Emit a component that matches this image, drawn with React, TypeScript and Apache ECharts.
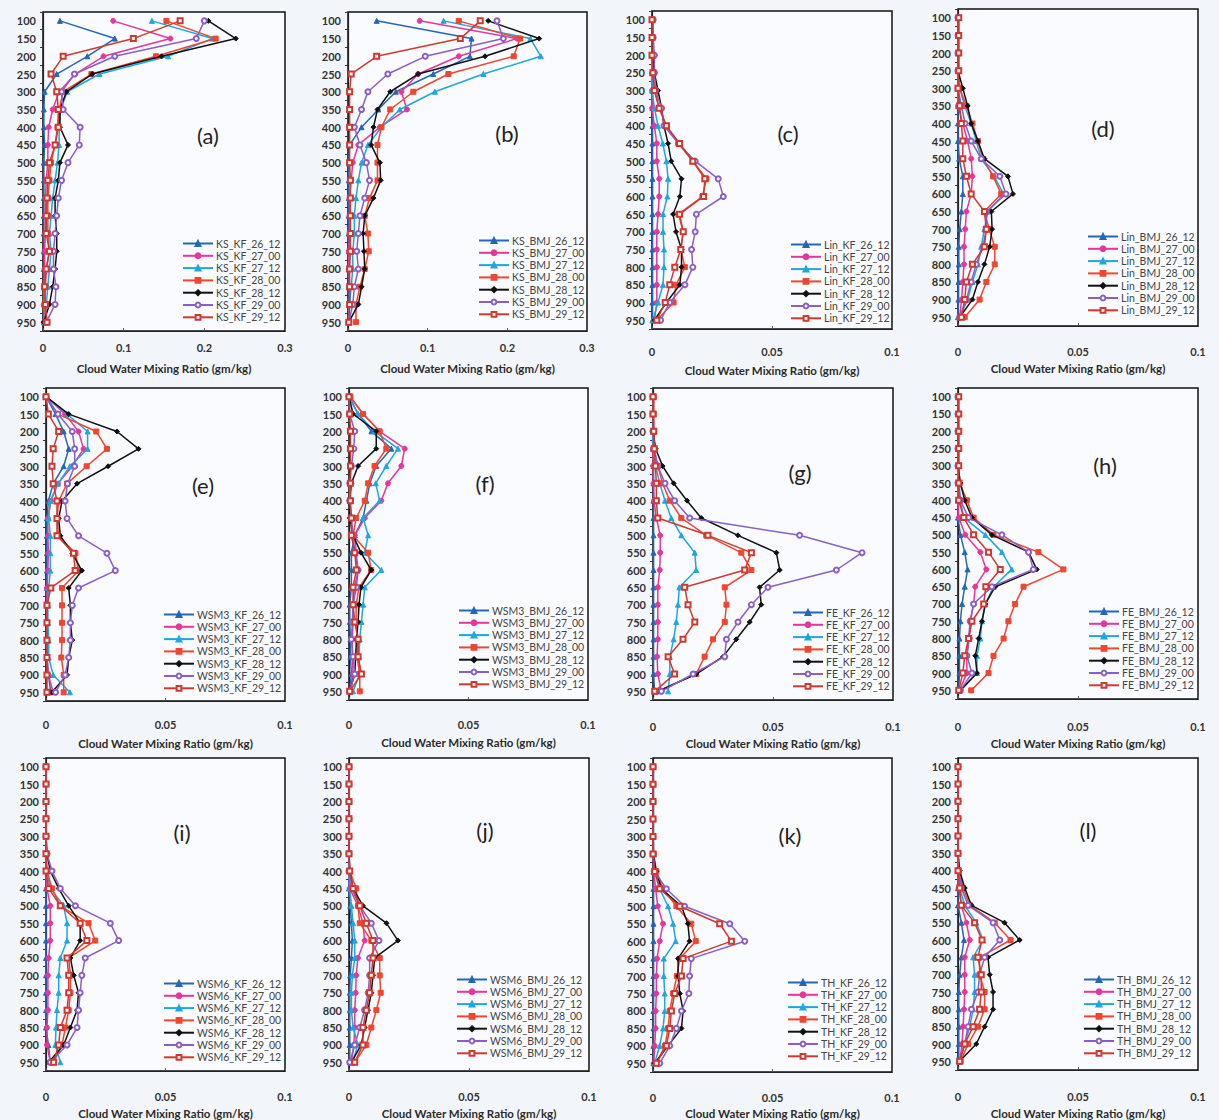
import React, { useEffect, useRef } from "react";
import * as echarts from "echarts";

// Pressure levels (hPa), top to bottom
const levels = ["100","150","200","250","300","350","400","450","500","550","600","650","700","750","800","850","900","950"];
// series suffixes (run start times)
const runs = ["26_12", "27_00", "27_12", "28_00", "28_12", "29_00", "29_12"];

// Each panel: 7 series (runs order) x 18 levels, cloud water mixing ratio (gm/kg)
const KS_KF = [
  [0.021,0.089,0.055,0.017,0.002,0.001,0.001,0.002,0.001,0.001,0.001,0.001,0.001,0.001,0.001,0.001,0.001,0.001],
  [0.087,0.158,0.075,0.040,0.020,0.012,0.007,0.006,0.006,0.004,0.003,0.003,0.003,0.002,0.002,0.001,0.001,0.001],
  [0.135,0.210,0.155,0.070,0.030,0.022,0.020,0.020,0.018,0.015,0.012,0.010,0.008,0.010,0.008,0.006,0.004,0.002],
  [0.153,0.214,0.140,0.060,0.025,0.020,0.018,0.015,0.010,0.008,0.006,0.006,0.006,0.008,0.004,0.003,0.002,0.004],
  [0.205,0.239,0.147,0.061,0.029,0.021,0.021,0.031,0.021,0.019,0.015,0.015,0.017,0.017,0.015,0.012,0.008,0.001],
  [0.200,0.190,0.089,0.039,0.023,0.025,0.046,0.045,0.031,0.023,0.019,0.017,0.015,0.013,0.013,0.016,0.015,0.004],
  [0.170,0.112,0.025,0.010,0.017,0.019,0.019,0.015,0.008,0.006,0.005,0.004,0.004,0.008,0.004,0.002,0.003,0.005],
];
const KS_BMJ = [
  [0.036,0.155,0.153,0.107,0.060,0.038,0.017,0.002,0.001,0.001,0.001,0.001,0.001,0.001,0.001,0.001,0.001,0.001],
  [0.090,0.212,0.139,0.088,0.067,0.074,0.040,0.013,0.006,0.004,0.002,0.002,0.002,0.001,0.001,0.002,0.002,0.001],
  [0.120,0.229,0.242,0.170,0.109,0.065,0.042,0.025,0.017,0.013,0.010,0.008,0.008,0.006,0.006,0.004,0.002,0.001],
  [0.139,0.216,0.208,0.126,0.082,0.053,0.042,0.037,0.037,0.037,0.027,0.021,0.025,0.026,0.021,0.015,0.010,0.010],
  [0.176,0.240,0.172,0.088,0.053,0.037,0.032,0.029,0.040,0.041,0.032,0.021,0.019,0.020,0.021,0.017,0.013,0.001],
  [0.187,0.195,0.097,0.050,0.025,0.017,0.008,0.015,0.023,0.027,0.021,0.015,0.013,0.011,0.013,0.008,0.006,0.001],
  [0.166,0.141,0.036,0.004,0.002,0.002,0.002,0.002,0.002,0.003,0.003,0.003,0.003,0.003,0.002,0.002,0.002,0.001],
];
const LIN_KF = [
  [0.0002,0.0002,0.0002,0.0002,0.0002,0.0002,0.0002,0.0002,0.0002,0.0002,0.0002,0.0002,0.0002,0.0002,0.0002,0.0002,0.0002,0.0002],
  [0,0,0,0,0,0,0.001,0.002,0.002,0.003,0.003,0.0025,0.002,0.002,0.002,0.002,0.002,0.001],
  [0,0,0,0,0,0.001,0.0025,0.0045,0.006,0.0067,0.0064,0.0046,0.0046,0.005,0.005,0.0046,0.0025,0.0004],
  [0,0,0.0002,0.0004,0.001,0.003,0.006,0.011,0.017,0.0227,0.021,0.011,0.013,0.012,0.0137,0.010,0.009,0.002],
  [0,0,0.0002,0.001,0.0025,0.004,0.005,0.0067,0.008,0.0123,0.0116,0.0088,0.010,0.0123,0.0123,0.0116,0.006,0.001],
  [0.0005,0.0005,0.001,0.001,0.0015,0.004,0.005,0.011,0.018,0.0276,0.0297,0.0185,0.018,0.0165,0.017,0.0137,0.0074,0.0036],
  [0,0,0,0.0004,0.001,0.003,0.006,0.0115,0.017,0.022,0.0215,0.0115,0.013,0.012,0.0095,0.0074,0.0055,0.002],
];
const LIN_BMJ = [
  [0,0,0,0,0,0,0,0,0.0005,0.002,0.002,0.0014,0.0007,0.0003,0.0003,0.0002,0.0002,0],
  [0,0,0,0,0,0,0.002,0.004,0.0055,0.006,0.0055,0.0035,0.003,0.0025,0.0025,0.002,0.0015,0.0007],
  [0,0,0,0,0.0007,0.0028,0.0055,0.0076,0.0097,0.015,0.019,0.0125,0.011,0.0097,0.0083,0.006,0.004,0.0007],
  [0.0003,0.0003,0.0003,0.0003,0.0007,0.0035,0.006,0.0083,0.0104,0.0146,0.018,0.011,0.013,0.0153,0.0153,0.0118,0.009,0.0028],
  [0,0,0,0,0.002,0.004,0.0055,0.0083,0.011,0.0208,0.0229,0.0139,0.0142,0.0132,0.011,0.0083,0.006,0.0007],
  [0,0,0,0,0,0.0014,0.003,0.0055,0.0097,0.0174,0.020,0.0118,0.0118,0.0104,0.0076,0.0055,0.0035,0.0007],
  [0.0003,0.0003,0.0003,0.0003,0,0.0007,0.0014,0.002,0.002,0.0035,0.0055,0.011,0.0118,0.011,0.006,0.0035,0.0028,0.0014],
];
const WSM3_KF = [
  [0,0.004,0.0074,0.0095,0.0074,0.003,0.001,0.0004,0.0004,0.0004,0.0004,0.0004,0.0004,0.0004,0.0004,0.0004,0.001,0.002],
  [0,0.008,0.0136,0.0157,0.011,0.005,0.002,0.0008,0.0008,0.001,0.0008,0.0004,0.0004,0.0004,0.0004,0.0004,0.001,0.003],
  [0,0.0088,0.0174,0.0174,0.010,0.005,0.0018,0.0011,0.0018,0.0018,0.0018,0.0011,0.0008,0.0008,0.0011,0.0011,0.003,0.010],
  [0,0.005,0.021,0.0255,0.017,0.0088,0.0053,0.0046,0.0053,0.0123,0.0136,0.0067,0.0067,0.0067,0.0067,0.0064,0.0074,0.0074],
  [0,0.0095,0.0297,0.0387,0.026,0.013,0.0067,0.0053,0.006,0.011,0.015,0.0095,0.0102,0.0102,0.011,0.0095,0.0088,0.0025],
  [0,0.005,0.011,0.012,0.012,0.009,0.008,0.0088,0.0136,0.0255,0.029,0.0136,0.011,0.0102,0.0102,0.0095,0.008,0.004],
  [0,0.001,0.0053,0.003,0.0025,0.003,0.0046,0.0046,0.0046,0.0115,0.0122,0.002,0.0004,0.0004,0.0004,0.0004,0.0004,0.0004],
];
const WSM3_BMJ = [
  [0,0.0038,0.0094,0.0177,0.0114,0.0087,0.0073,0.0059,0.0024,0.001,0.001,0.001,0.0003,0.0003,0.0006,0.0006,0.001,0.0003],
  [0.0003,0.0059,0.0128,0.0233,0.0219,0.0163,0.0135,0.0066,0.0024,0.003,0.0038,0.0024,0.0017,0.0017,0.0014,0.0014,0.0017,0.0003],
  [0,0.0038,0.0107,0.0205,0.0156,0.0112,0.0128,0.0059,0.008,0.0066,0.0135,0.0066,0.0059,0.0052,0.0045,0.0042,0.0045,0.0017],
  [0.0006,0.0059,0.0128,0.0156,0.0107,0.008,0.0066,0.003,0.0017,0.008,0.0093,0.0042,0.003,0.003,0.0038,0.0033,0.0045,0.0045],
  [0,0.0017,0.0114,0.0114,0.0038,0.001,0.0003,0.0003,0.0017,0.005,0.0093,0.005,0.0042,0.0038,0.0031,0.0028,0.0024,0.0003],
  [0,0.0003,0.0024,0.002,0.001,0.0003,0.0003,0.001,0.0017,0.0024,0.0038,0.0031,0.0017,0.0014,0.001,0.0017,0.0024,0.0003],
  [0,0.0003,0.0006,0.0006,0.0006,0.0006,0.0006,0.001,0.001,0.0024,0.0031,0.0017,0.0017,0.0024,0.0038,0.0038,0.0052,0.0003],
];
const FE_KF = [
  [0.0002,0.0002,0.0002,0.0002,0.0002,0.0002,0.0002,0.0002,0.0002,0.0002,0.0002,0.0002,0.0002,0.0002,0.0002,0.0002,0.0002,0.0007],
  [0,0,0,0,0,0.0002,0.0004,0.0014,0.003,0.003,0.0028,0.002,0.002,0.002,0.002,0.0017,0.002,0.0035],
  [0,0,0,0,0.0011,0.0028,0.005,0.0076,0.0118,0.0174,0.018,0.011,0.0104,0.0097,0.0086,0.007,0.007,0.0063],
  [0.0003,0.0003,0.0003,0.0003,0.002,0.004,0.007,0.0118,0.0222,0.0368,0.041,0.0299,0.0306,0.0299,0.025,0.0215,0.018,0.002],
  [0,0,0,0.0011,0.004,0.0086,0.0142,0.0201,0.0354,0.0514,0.0528,0.0444,0.0451,0.0403,0.0347,0.0292,0.018,0.002],
  [0,0,0,0.0005,0.002,0.005,0.009,0.0153,0.0611,0.0871,0.0764,0.0479,0.041,0.0354,0.0306,0.0299,0.0167,0.0035],
  [0,0,0.0003,0.0005,0.001,0.0014,0.0014,0.002,0.0229,0.041,0.0382,0.0132,0.0146,0.0174,0.0125,0.0063,0.009,0.0007],
];
const FE_BMJ = [
  [0,0,0,0,0,0,0,0,0.001,0.0028,0.004,0.0028,0.0017,0.001,0.0006,0.0006,0.0006,0.0003],
  [0,0,0,0,0,0,0,0.0003,0.003,0.0093,0.0118,0.0072,0.0065,0.0051,0.0044,0.0037,0.0037,0.0006],
  [0,0,0,0,0,0.0005,0.001,0.0024,0.0114,0.0183,0.0224,0.0148,0.0114,0.01,0.0093,0.0079,0.0079,0.001],
  [0.0003,0.0003,0.0003,0.0003,0.0003,0.0007,0.0037,0.0065,0.0148,0.0335,0.0439,0.0273,0.0238,0.021,0.019,0.0148,0.0127,0.0055],
  [0,0,0,0,0,0.001,0.0028,0.0058,0.0141,0.0294,0.0328,0.0155,0.0114,0.01,0.0086,0.0072,0.0079,0.001],
  [0,0,0,0,0,0,0.001,0.0044,0.0183,0.0294,0.0314,0.0141,0.0065,0.0051,0.0047,0.0037,0.0058,0.001],
  [0.0003,0.0003,0.0003,0.0003,0.0003,0.0003,0.0003,0.0024,0.0065,0.0127,0.0176,0.0116,0.0107,0.0058,0.0044,0.0028,0.002,0.0003],
];
const WSM6_KF = [
  [0,0,0,0,0,0,0,0,0,0,0,0,0,0,0,0,0.001,0.0018],
  [0,0,0,0,0,0,0,0.0004,0.0018,0.0018,0.0018,0.0011,0.0008,0.0008,0.0008,0.0004,0.0004,0.0018],
  [0,0,0,0,0,0,0.0004,0.0018,0.0074,0.0088,0.0088,0.006,0.0053,0.0053,0.0046,0.0042,0.0039,0.006],
  [0,0,0,0,0,0,0.0004,0.0025,0.006,0.0178,0.0206,0.0095,0.0102,0.0102,0.0095,0.0081,0.0067,0.0032],
  [0,0,0,0,0,0.0004,0.0018,0.0053,0.0095,0.0143,0.0143,0.0102,0.0116,0.0136,0.013,0.0102,0.0074,0.0011],
  [0,0,0,0,0,0.0004,0.0025,0.006,0.0123,0.0269,0.0304,0.0164,0.015,0.0143,0.0136,0.013,0.0088,0.0018],
  [0,0,0,0,0,0,0,0.0011,0.006,0.0143,0.0171,0.0088,0.0095,0.0095,0.0088,0.006,0.0053,0.0032],
];
const WSM6_BMJ = [
  [0,0,0,0,0,0,0,0,0.0005,0.001,0.0014,0.001,0.0005,0.0003,0.0003,0.0003,0.0003,0.0003],
  [0,0,0,0,0,0,0,0.0003,0.0037,0.0058,0.0065,0.0037,0.003,0.0028,0.0024,0.0024,0.002,0.001],
  [0,0,0,0,0,0,0,0.0003,0.001,0.0017,0.0024,0.0024,0.0014,0.001,0.001,0.0017,0.0037,0.0014],
  [0,0,0,0,0,0,0.0003,0.003,0.0037,0.0045,0.0093,0.0128,0.0128,0.0132,0.0114,0.0093,0.0072,0.0024],
  [0,0,0,0,0,0,0.0003,0.0017,0.0058,0.0156,0.0204,0.0107,0.01,0.0093,0.0079,0.0065,0.0051,0.001],
  [0,0,0,0,0,0,0,0.001,0.0045,0.0093,0.0125,0.0086,0.0086,0.008,0.0065,0.0045,0.0024,0.0003],
  [0,0,0,0,0,0,0.0003,0.0017,0.0045,0.0072,0.01,0.01,0.0093,0.0086,0.0072,0.0058,0.0058,0.0024],
];
const TH_KF = [
  [0.0002,0.0002,0.0002,0.0002,0.0002,0.0002,0.0002,0.0002,0.0002,0.0002,0.0002,0.0002,0.0002,0.0002,0.0002,0.0002,0.0002,0.0002],
  [0,0,0,0,0,0,0.0003,0.0011,0.002,0.0042,0.0028,0.0017,0.0014,0.0014,0.0011,0.0011,0.0007,0.0003],
  [0,0,0,0,0,0,0.0007,0.0028,0.0063,0.0084,0.0095,0.0045,0.0045,0.0049,0.0049,0.0042,0.0028,0.0007],
  [0,0,0,0,0,0.0003,0.0014,0.0042,0.0098,0.016,0.0179,0.0112,0.01,0.0084,0.007,0.0063,0.005,0.0014],
  [0,0,0,0,0,0,0.0014,0.0035,0.0119,0.0146,0.0153,0.0105,0.0105,0.0112,0.0126,0.0119,0.0063,0.0007],
  [0,0,0,0,0,0,0.0007,0.0056,0.0132,0.0321,0.0384,0.016,0.0153,0.015,0.0119,0.0098,0.007,0.0028],
  [0,0,0,0,0,0,0.0007,0.0028,0.0112,0.0279,0.0328,0.0126,0.0119,0.0091,0.0077,0.007,0.0056,0.0014],
];
const TH_BMJ = [
  [0,0,0,0,0,0,0,0,0,0.0014,0.0025,0.0014,0.0007,0.0003,0.0003,0.0003,0.0003,0.0003],
  [0,0,0,0,0,0,0,0.0003,0.0014,0.0035,0.0049,0.0028,0.0028,0.0028,0.0025,0.0021,0.0017,0.0007],
  [0,0,0,0,0,0,0,0.0007,0.0028,0.0076,0.0104,0.0063,0.0069,0.0069,0.0063,0.0049,0.0028,0.0007],
  [0,0,0,0,0,0,0.0003,0.0021,0.0049,0.0153,0.0219,0.009,0.009,0.0111,0.0111,0.0083,0.0042,0.0011],
  [0,0,0,0,0,0,0.0007,0.0028,0.0056,0.0194,0.0257,0.0125,0.0132,0.0146,0.0146,0.0111,0.0076,0.0007],
  [0,0,0,0,0,0,0.0003,0.0014,0.0042,0.0146,0.0174,0.0111,0.009,0.0083,0.0056,0.0042,0.0028,0.0007],
  [0,0,0,0,0,0,0,0.0007,0.0014,0.0069,0.01,0.0083,0.0097,0.0097,0.009,0.0063,0.0028,0.0007],
];

// Panel definitions (data + layout)
const panels = [
  { tag: "(a)", prefix: "KS_KF", data: KS_KF, xmax: 0.3, step: 0.1, L: 43, R: 285, T: 12, B: 331, lab: 348, tit: 368, legL: 182, legC: 244, tx: 208, ty: 135 },
  { tag: "(b)", prefix: "KS_BMJ", data: KS_BMJ, xmax: 0.3, step: 0.1, L: 348, R: 587, T: 12, B: 331, lab: 348, tit: 368, legL: 478, legC: 241, tx: 507, ty: 133 },
  { tag: "(c)", prefix: "Lin_KF", data: LIN_KF, xmax: 0.1, step: 0.05, L: 652, R: 892, T: 11, B: 329, lab: 352, tit: 370, legL: 790, legC: 245, tx: 788, ty: 133 },
  { tag: "(d)", prefix: "Lin_BMJ", data: LIN_BMJ, xmax: 0.1, step: 0.05, L: 958, R: 1198, T: 9, B: 326, lab: 352, tit: 368, legL: 1087, legC: 237, tx: 1103, ty: 128 },
  { tag: "(e)", prefix: "WSM3_KF", data: WSM3_KF, xmax: 0.1, step: 0.05, L: 46, R: 285, T: 388, B: 701, lab: 725, tit: 743, legL: 163, legC: 615, tx: 203, ty: 485 },
  { tag: "(f)", prefix: "WSM3_BMJ", data: WSM3_BMJ, xmax: 0.1, step: 0.05, L: 349, R: 588, T: 388, B: 700, lab: 725, tit: 742, legL: 458, legC: 611, tx: 485, ty: 483 },
  { tag: "(g)", prefix: "FE_KF", data: FE_KF, xmax: 0.1, step: 0.05, L: 653, R: 893, T: 388, B: 700, lab: 727, tit: 743, legL: 792, legC: 613, tx: 800, ty: 472 },
  { tag: "(h)", prefix: "FE_BMJ", data: FE_BMJ, xmax: 0.1, step: 0.05, L: 958, R: 1198, T: 388, B: 699, lab: 727, tit: 743, legL: 1088, legC: 612, tx: 1105, ty: 465 },
  { tag: "(i)", prefix: "WSM6_KF", data: WSM6_KF, xmax: 0.1, step: 0.05, L: 46, R: 285, T: 758, B: 1071, lab: 1097, tit: 1113, legL: 163, legC: 984, tx: 182, ty: 832 },
  { tag: "(j)", prefix: "WSM6_BMJ", data: WSM6_BMJ, xmax: 0.1, step: 0.05, L: 349, R: 589, T: 758, B: 1071, lab: 1097, tit: 1113, legL: 456, legC: 980, tx: 485, ty: 830 },
  { tag: "(k)", prefix: "TH_KF", data: TH_KF, xmax: 0.1, step: 0.05, L: 653, R: 892, T: 758, B: 1072, lab: 1098, tit: 1113, legL: 787, legC: 983, tx: 790, ty: 835 },
  { tag: "(l)", prefix: "TH_BMJ", data: TH_BMJ, xmax: 0.1, step: 0.05, L: 958, R: 1198, T: 758, B: 1070, lab: 1097, tit: 1113, legL: 1083, legC: 980, tx: 1088, ty: 830 },
];

const styles = [
  { color: "#2466b8", symbol: "triangle", size: 5 },
  { color: "#e8359a", symbol: "circle", size: 5 },
  { color: "#1ea6df", symbol: "triangle", size: 5 },
  { color: "#f0452e", symbol: "rect", size: 5 },
  { color: "#111111", symbol: "diamond", size: 5 },
  { color: "#8a5ec8", symbol: "emptyCircle", size: 5 },
  { color: "#d0382f", symbol: "emptyRect", size: 5 },
];

const FONT = "Lato, 'DejaVu Sans', sans-serif";

export default function App() {
  const ref = useRef<HTMLDivElement>(null);
  useEffect(() => {
    if (!ref.current) return;
    const chart = echarts.init(ref.current, undefined, { renderer: "svg" });
    const grid: any[] = [];
    const xAxis: any[] = [];
    const yAxis: any[] = [];
    const series: any[] = [];
    const legend: any[] = [];
    const graphic: any[] = [];
    panels.forEach((p, i) => {
      grid.push({
        left: p.L, top: p.T, width: p.R - p.L, height: p.B - p.T,
        show: true, backgroundColor: "#f9fbfe", borderColor: "#111", borderWidth: 1.5,
      });
      xAxis.push({
        type: "value", gridIndex: i, min: 0, max: p.xmax, interval: p.step,
        splitLine: { show: false },
        axisLine: { show: true, lineStyle: { color: "#222", width: 1.2 } },
        axisTick: { show: true, inside: true, length: 3, lineStyle: { color: "#555" } },
        axisLabel: { margin: p.lab - p.B - 6, fontFamily: FONT, fontSize: 11, fontWeight: "bold", color: "#333" },
        name: "Cloud Water Mixing Ratio (gm/kg)", nameLocation: "middle", nameGap: p.tit - p.B - 6,
        nameTextStyle: { fontFamily: FONT, fontSize: 11.5, fontWeight: "bold", color: "#2b2b2b" },
      });
      yAxis.push({
        type: "category", gridIndex: i, data: levels, inverse: true, boundaryGap: true,
        axisLine: { show: true, lineStyle: { color: "#222", width: 1.2 } },
        axisTick: { show: true, length: 3, lineStyle: { color: "#333" } },
        axisLabel: { margin: 7, fontFamily: FONT, fontSize: 11, fontWeight: "bold", color: "#333", interval: 0 },
        splitLine: { show: false },
      });
      const names: string[] = [];
      p.data.forEach((vals, s) => {
        const st = styles[s];
        const name = `${p.prefix}_${runs[s]}`;
        names.push(name);
        series.push({
          type: "line", name, xAxisIndex: i, yAxisIndex: i, data: vals,
          symbol: st.symbol, symbolSize: st.size, showSymbol: true,
          lineStyle: { color: st.color, width: 1.5 },
          itemStyle: { color: st.color, borderColor: st.color, borderWidth: 1 },
          z: 2 + s,
        });
      });
      legend.push({
        data: names, orient: "vertical", left: p.legL, top: p.legC - 6,
        itemWidth: 30, itemHeight: 6, itemGap: 1.3,
        textStyle: { fontFamily: FONT, fontSize: 10.5, color: "#444", padding: [0, 0, 0, -2] },
        padding: 0, selectedMode: false,
      });
      graphic.push({
        type: "text", x: p.tx, y: p.ty,
        style: { text: p.tag, fontFamily: FONT, fontSize: 22, fill: "#222", textAlign: "center", textVerticalAlign: "middle" },
      });
    });
    chart.setOption({
      animation: false,
      backgroundColor: "#f2f6fa",
      grid, xAxis, yAxis, series, legend, graphic,
    });
    return () => chart.dispose();
  }, []);
  return <div ref={ref} style={{ position: "absolute", left: 0, top: 0, width: 1219, height: 1120 }} />;
}
